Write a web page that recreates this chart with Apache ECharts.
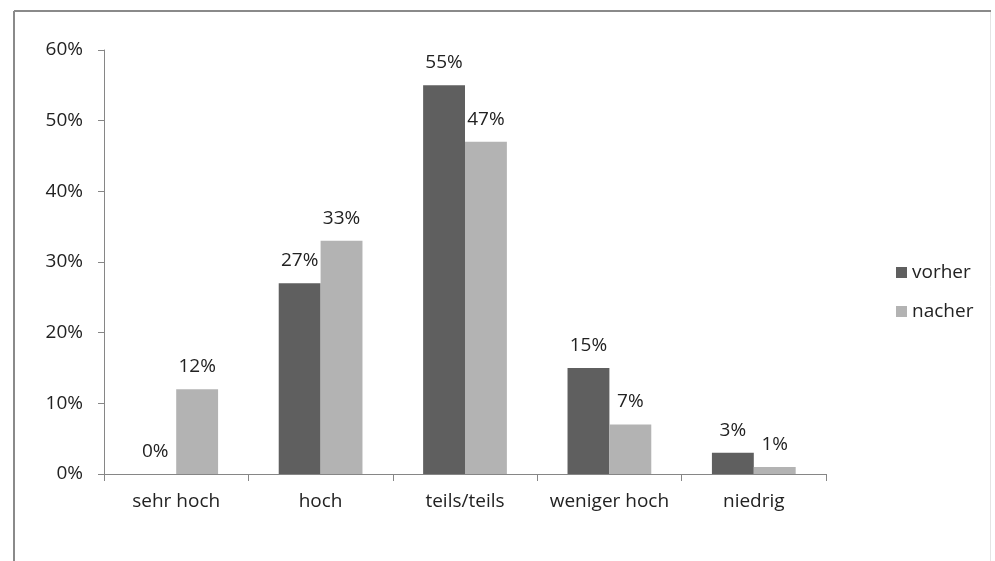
<!DOCTYPE html>
<html>
<head>
<meta charset="utf-8">
<script src="https://cdn.jsdelivr.net/npm/echarts@6/dist/echarts.min.js"></script>
<style>
  html, body { margin: 0; padding: 0; background: #fff; }
  #chart { width: 995px; height: 561px; }
</style>
</head>
<body>
<div id="chart"></div>
<script>
// Survey answers: share of respondents per rating level, before and after
const categories = ['sehr hoch', 'hoch', 'teils/teils', 'weniger hoch', 'niedrig'];
const vorher = [0, 27, 55, 15, 3];
const nacher = [12, 33, 47, 7, 1];
const seriesNames = ['vorher', 'nacher'];
const yTicks = [0, 10, 20, 30, 40, 50, 60];

const FONT = 'Open Sans';
const SIZE = 19;
const TEXT = '#222222';
const AXIS = '#868686';

const chart = echarts.init(document.getElementById('chart'), null, { renderer: 'canvas' });

const labelStyle = {
  show: true,
  position: 'top',
  distance: 13,
  formatter: p => p.value + '%',
  fontFamily: FONT,
  fontSize: SIZE,
  color: TEXT
};

chart.setOption({
  animation: false,
  backgroundColor: '#fff',
  graphic: [
    // outer frame: darker top and left edges, faint right edge
    { type: 'line', shape: { x1: 14, y1: 11, x2: 991, y2: 11 }, style: { stroke: '#8a8a8a', lineWidth: 2 } },
    { type: 'line', shape: { x1: 14, y1: 11, x2: 14, y2: 561 }, style: { stroke: '#8a8a8a', lineWidth: 2 } },
    { type: 'line', shape: { x1: 990.5, y1: 12, x2: 990.5, y2: 561 }, style: { stroke: '#e4e4e4', lineWidth: 1 } }
  ],
  grid: { left: 104, right: 169, top: 50, bottom: 87, containLabel: false },
  legend: {
    orient: 'vertical',
    left: 891,
    top: 258,
    itemWidth: 11,
    itemHeight: 11,
    itemGap: 20,
    icon: 'rect',
    textStyle: { fontFamily: FONT, fontSize: SIZE, color: TEXT },
    data: seriesNames
  },
  xAxis: {
    type: 'category',
    data: categories,
    axisLine: { lineStyle: { color: AXIS, width: 1 } },
    axisTick: { show: true, length: 7, lineStyle: { color: AXIS } },
    axisLabel: { interval: 0, fontFamily: FONT, fontSize: SIZE, color: TEXT, margin: 18 }
  },
  yAxis: {
    type: 'value',
    min: yTicks[0],
    max: yTicks[yTicks.length - 1],
    interval: 10,
    axisLine: { show: true, lineStyle: { color: AXIS, width: 1 } },
    axisTick: { show: true, length: 6, lineStyle: { color: AXIS } },
    splitLine: { show: false },
    axisLabel: { fontFamily: FONT, fontSize: SIZE, color: TEXT, margin: 21, formatter: v => v + '%' }
  },
  series: [
    {
      name: seriesNames[0],
      type: 'bar',
      data: vorher,
      barGap: '0%',
      barCategoryGap: '42%',
      itemStyle: { color: '#5f5f5f' },
      label: labelStyle
    },
    {
      name: seriesNames[1],
      type: 'bar',
      data: nacher,
      barGap: '0%',
      barCategoryGap: '42%',
      itemStyle: { color: '#b3b3b3' },
      label: labelStyle
    }
  ]
});
</script>
</body>
</html>
